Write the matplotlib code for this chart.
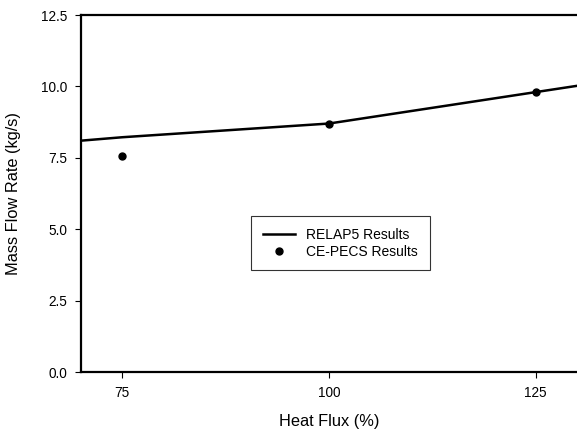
import numpy as np
import matplotlib.pyplot as plt

plt.rcParams['font.family'] = ['Liberation Sans', 'DejaVu Sans']

# RELAP5 curve
relap_x = [70, 75, 100, 125, 130]
relap_y = [8.10, 8.22, 8.70, 9.80, 10.02]

# CE-PECS experimental points
pecs_x = [75, 100, 125]
pecs_y = [7.57, 8.70, 9.81]

xticks = [75, 100, 125]
yticks = [0.0, 2.5, 5.0, 7.5, 10.0, 12.5]

fig = plt.figure(figsize=(5.77, 4.32), dpi=100)
ax = fig.add_axes([81/577, 60/432, 1 - 81/577, 357/432])

ax.plot(relap_x, relap_y, color='black', lw=1.8, label='RELAP5 Results')
ax.plot(pecs_x, pecs_y, 'o', color='black', ms=5, label='CE-PECS Results')

ax.set_xlim(70, 130)
ax.set_ylim(0, 12.5)
ax.set_xticks(xticks)
ax.set_yticks(yticks)
ax.set_yticklabels(['%.1f' % v for v in yticks])

for s in ['left', 'bottom', 'top']:
    ax.spines[s].set_linewidth(1.6)
ax.spines['right'].set_visible(False)
ax.tick_params(direction='out', length=4, width=0.8, labelsize=9.8, pad=6)

ax.set_xlabel('Heat Flux (%)', fontsize=11.8, labelpad=10)
ax.set_ylabel('Mass Flow Rate (kg/s)', fontsize=11.8, labelpad=14)

leg = ax.legend(loc='center', bbox_to_anchor=(0.523, 0.361), fontsize=10,
                frameon=True, fancybox=False, handlelength=2.3,
                borderpad=0.85, labelspacing=0.2)
leg.get_frame().set_edgecolor('black')
leg.get_frame().set_linewidth(0.8)

plt.savefig('out.png', dpi=100)
